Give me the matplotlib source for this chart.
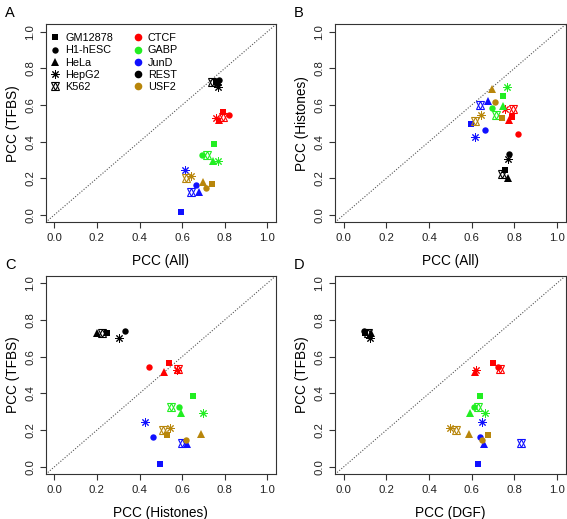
import matplotlib
matplotlib.use("Agg")
import matplotlib.pyplot as plt
from matplotlib.lines import Line2D
from matplotlib.legend_handler import HandlerTuple

plt.rcParams['font.family'] = ['Liberation Sans', 'DejaVu Sans']

tfs = ['CTCF', 'GABP', 'JunD', 'REST', 'USF2']
cells = ['GM12878', 'H1-hESC', 'HeLa', 'HepG2', 'K562']
tf_colors = ['#FF0000', '#22EE22', '#1010FF', '#000000', '#B8860B']

# values per TF (rows) and cell line (columns: GM12878, H1-hESC, HeLa, HepG2, K562)
pcc_all = [
    [0.790, 0.818, 0.775, 0.757, 0.791],
    [0.747, 0.693, 0.746, 0.767, 0.715],
    [0.596, 0.664, 0.678, 0.614, 0.640],
    [0.758, 0.775, 0.768, 0.770, 0.740],
    [0.741, 0.710, 0.697, 0.643, 0.616],
]
pcc_tfbs = [
    [0.563, 0.544, 0.516, 0.529, 0.532],
    [0.387, 0.328, 0.292, 0.296, 0.328],
    [0.018, 0.162, 0.124, 0.244, 0.128],
    [0.727, 0.738, 0.726, 0.700, 0.728],
    [0.171, 0.146, 0.178, 0.213, 0.200],
]
pcc_histones = [
    [0.536, 0.443, 0.516, 0.578, 0.579],
    [0.651, 0.585, 0.595, 0.696, 0.547],
    [0.495, 0.464, 0.622, 0.426, 0.598],
    [0.248, 0.330, 0.202, 0.306, 0.223],
    [0.527, 0.616, 0.687, 0.545, 0.511],
]
pcc_dgf = [
    [0.698, 0.723, 0.614, 0.619, 0.731],
    [0.638, 0.613, 0.594, 0.664, 0.628],
    [0.628, 0.638, 0.659, 0.648, 0.833],
    [0.102, 0.098, 0.128, 0.123, 0.114],
    [0.677, 0.648, 0.588, 0.500, 0.527],
]

ticks = [0.0, 0.2, 0.4, 0.6, 0.8, 1.0]
tick_labels = ['0.0', '0.2', '0.4', '0.6', '0.8', '1.0']

W, H = 567, 519
fig = plt.figure(figsize=(W / 100, H / 100), dpi=100)


def ax_at(l, t, r, b):
    return fig.add_axes([l / W, 1 - b / H, (r - l) / W, (b - t) / H])


# marker styles per cell line
def draw_marker(ax, x, y, ci, color):
    if ci == 0:
        ax.plot([x], [y], marker='s', ms=4.3, color=color, ls='none', mew=0)
    elif ci == 1:
        ax.plot([x], [y], marker='o', ms=4.6, color=color, ls='none', mew=0)
    elif ci == 2:
        ax.plot([x], [y], marker='^', ms=5.2, color=color, ls='none', mew=0)
    elif ci == 3:
        ax.plot([x], [y], marker=(8, 2, 0), ms=6.0, color=color, ls='none', mew=0.7)
    else:
        ax.plot([x], [y], marker='^', ms=5.8, mfc='none', mec=color, ls='none', mew=0.8)
        ax.plot([x], [y], marker='v', ms=5.8, mfc='none', mec=color, ls='none', mew=0.8)


def setup(ax, xlabel, ylabel):
    ax.set_xlim(-0.04, 1.04)
    ax.set_ylim(-0.04, 1.04)
    ax.plot([-0.04, 1.04], [-0.04, 1.04], ls=(0, (1, 1.5)), color='#555555', lw=0.8)
    ax.set_xticks(ticks)
    ax.set_xticklabels(tick_labels)
    ax.set_yticks(ticks)
    ax.set_yticklabels(tick_labels, rotation=90, va='center')
    ax.tick_params(direction='out', length=4.5, width=0.8, labelsize=8.2, color='#333333',
                   labelcolor='#222222', pad=3)
    for s in ax.spines.values():
        s.set_linewidth(0.8)
        s.set_color('#333333')
    ax.set_xlabel(xlabel, fontsize=9.8, labelpad=8)
    ax.set_ylabel(ylabel, fontsize=9.8, labelpad=4)


def panel(ax, xs, ys, xlabel, ylabel):
    setup(ax, xlabel, ylabel)
    for ti in range(len(tfs)):
        for ci in range(len(cells)):
            draw_marker(ax, xs[ti][ci], ys[ti][ci], ci, tf_colors[ti])


axA = ax_at(45.7, 24.3, 276, 222.3)
axB = ax_at(335, 24.3, 565.7, 222.3)
axC = ax_at(45.7, 275.7, 276, 474.3)
axD = ax_at(335, 275.7, 565.7, 474.3)

panel(axA, pcc_all, pcc_tfbs, 'PCC (All)', 'PCC (TFBS)')
panel(axB, pcc_all, pcc_histones, 'PCC (All)', 'PCC (Histones)')
panel(axC, pcc_histones, pcc_tfbs, 'PCC (Histones)', 'PCC (TFBS)')
panel(axD, pcc_dgf, pcc_tfbs, 'PCC (DGF)', 'PCC (TFBS)')

# legends in panel A
cell_handles = [
    Line2D([], [], marker='s', ms=4.3, color='k', ls='none', mew=0),
    Line2D([], [], marker='o', ms=4.6, color='k', ls='none', mew=0),
    Line2D([], [], marker='^', ms=5.2, color='k', ls='none', mew=0),
    Line2D([], [], marker=(8, 2, 0), ms=6.0, color='k', ls='none', mew=0.7),
    (Line2D([], [], marker='^', ms=5.8, mfc='none', mec='k', ls='none', mew=0.8),
     Line2D([], [], marker='v', ms=5.8, mfc='none', mec='k', ls='none', mew=0.8)),
]
leg_kw = dict(loc='upper left', frameon=False, fontsize=7.8, handlelength=1.0,
              handletextpad=0.4, labelspacing=0.2, borderpad=0, borderaxespad=0)
leg1 = axA.legend(cell_handles, cells, bbox_to_anchor=(0.018, 0.955),
                  handler_map={tuple: HandlerTuple(ndivide=1, pad=0)}, **leg_kw)
axA.add_artist(leg1)
tf_handles = [Line2D([], [], marker='o', ms=5.5, color=c, ls='none', mew=0) for c in tf_colors]
axA.legend(tf_handles, tfs, bbox_to_anchor=(0.378, 0.955), **leg_kw)

for letter, (x, y) in zip('ABCD', [(10, 13), (299, 13), (10, 265), (299, 265)]):
    fig.text(x / W, 1 - y / H, letter, fontsize=10.5, ha='center', va='center')

fig.savefig('out.png', dpi=100)
